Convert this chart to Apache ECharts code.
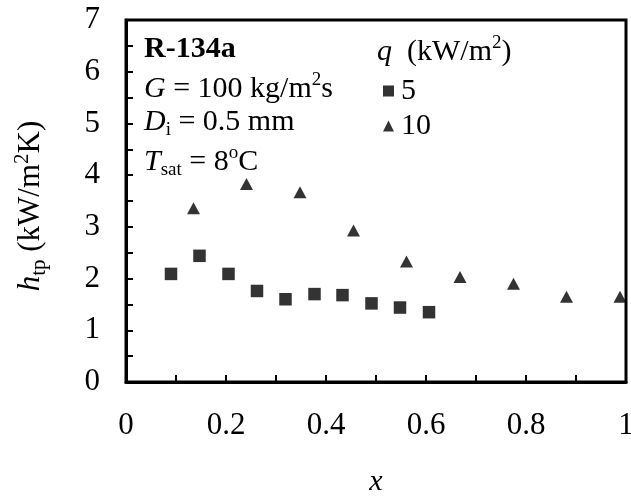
<!DOCTYPE html>
<html>
<head>
<meta charset="utf-8">
<script src="https://cdn.jsdelivr.net/npm/echarts@6/dist/echarts.min.js"></script>
<style>html,body{margin:0;padding:0;background:#fff;}#c{width:631px;height:496px;}</style>
</head>
<body>
<div id="c"></div>
<script>
// Data
var q5X = [0.090, 0.147, 0.205, 0.262, 0.319, 0.377, 0.433, 0.491, 0.548, 0.606];
var q5Y = [2.09, 2.44, 2.09, 1.76, 1.60, 1.70, 1.68, 1.52, 1.44, 1.35];
var q10X = [0.135, 0.241, 0.348, 0.455, 0.561, 0.668, 0.775, 0.881, 0.988];
var q10Y = [3.36, 3.83, 3.67, 2.93, 2.33, 2.03, 1.90, 1.65, 1.65];
var seriesNames = ['5', '10'];
var xTickLabels = ['0', '0.2', '0.4', '0.6', '0.8', '1'];
var yTickLabels = ['0', '1', '2', '3', '4', '5', '6', '7'];

var FONT = '"Liberation Serif", "Times New Roman", serif';
var FS = 30;
var TFS = 31;

function pairs(xs, ys) { return xs.map(function (x, i) { return [x, ys[i]]; }); }

var rich = {
  n: { fontFamily: FONT, fontSize: FS, color: '#000', lineHeight: 36 },
  b: { fontFamily: FONT, fontSize: FS, fontWeight: 'bold', color: '#000', lineHeight: 36 },
  i: { fontFamily: FONT, fontSize: FS, fontStyle: 'italic', color: '#000', lineHeight: 36 },
  sup: { fontFamily: FONT, fontSize: 19, color: '#000', verticalAlign: 'top' },
  sub: { fontFamily: FONT, fontSize: 19, color: '#000', verticalAlign: 'bottom' }
};
var richY = {
  n: { fontFamily: FONT, fontSize: 31, color: '#000', lineHeight: 38 },
  i: { fontFamily: FONT, fontSize: 31, fontStyle: 'italic', color: '#000', lineHeight: 38 },
  sup: { fontFamily: FONT, fontSize: 21, color: '#000', verticalAlign: 'top' },
  sub: { fontFamily: FONT, fontSize: 21, color: '#000', verticalAlign: 'bottom' }
};

function txt(x, y, s) {
  return {
    type: 'text', left: x, top: y,
    style: { text: s, rich: rich, font: FS + 'px ' + FONT, fill: '#000' }
  };
}

var chart = echarts.init(document.getElementById('c'));
chart.setOption({
  animation: false,
  backgroundColor: '#fff',
  grid: {
    left: 126, right: 5, top: 20, bottom: 114, containLabel: false, outerBoundsMode: 'none',
    show: true, borderColor: '#000', borderWidth: 3
  },
  xAxis: {
    type: 'value', min: 0, max: 1, interval: 0.1,
    name: '{i|x}', nameLocation: 'middle', nameGap: 82,
    nameTextStyle: { rich: rich },
    axisLine: { show: true, onZero: false, lineStyle: { color: '#000', width: 3 } },
    axisTick: { show: true, inside: true, length: 7, lineStyle: { color: '#000', width: 2 } },
    splitLine: { show: false },
    axisLabel: {
      margin: 28, fontFamily: FONT, fontSize: TFS, color: '#000', lineHeight: 31,
      formatter: function (v) {
        var k = Math.round(v * 10);
        return k % 2 === 0 ? xTickLabels[k / 2] : '';
      }
    }
  },
  yAxis: {
    type: 'value', min: 0, max: 7, interval: 0.5,
    name: '{i|h}{sub|tp}{n| (kW/m}{sup|2}{n|K)}', nameLocation: 'middle', nameGap: 76, nameRotate: 90,
    nameTextStyle: { rich: richY, padding: [0, 10, 0, 0] },
    axisLine: { show: true, onZero: false, lineStyle: { color: '#000', width: 3 } },
    axisTick: { show: true, inside: true, length: 7, lineStyle: { color: '#000', width: 2 } },
    splitLine: { show: false },
    axisLabel: {
      margin: 26, fontFamily: FONT, fontSize: TFS, color: '#000',
      formatter: function (v) {
        var k = Math.round(v * 2);
        return k % 2 === 0 ? yTickLabels[k / 2] : '';
      }
    }
  },
  legend: {
    orient: 'vertical', left: 378, top: 71, itemGap: 5,
    itemWidth: 11, itemHeight: 11,
    textStyle: { fontFamily: FONT, fontSize: FS, color: '#000', padding: [0, 0, 0, 2] },
    data: [{ name: seriesNames[0], icon: 'rect' }, { name: seriesNames[1], icon: 'triangle' }]
  },
  graphic: [
    txt(144, 34, '{b|R-134a}'),
    txt(144, 71, '{i|G}{n| = 100 kg/m}{sup|2}{n|s}'),
    txt(144, 107, '{i|D}{sub|i}{n| = 0.5 mm}'),
    txt(144, 144, '{i|T}{sub|sat}{n| = 8}{sup|o}{n|C}'),
    txt(377, 34, '{i|q}{n|  (kW/m}{sup|2}{n|)}')
  ],
  series: [
    {
      name: seriesNames[0], type: 'scatter', symbol: 'rect', symbolSize: 12.5,
      itemStyle: { color: '#000' }, data: pairs(q5X, q5Y)
    },
    {
      name: seriesNames[1], type: 'scatter', symbol: 'triangle', symbolSize: [13, 12],
      itemStyle: { color: '#000' }, data: pairs(q10X, q10Y)
    }
  ]
});
</script>
</body>
</html>
